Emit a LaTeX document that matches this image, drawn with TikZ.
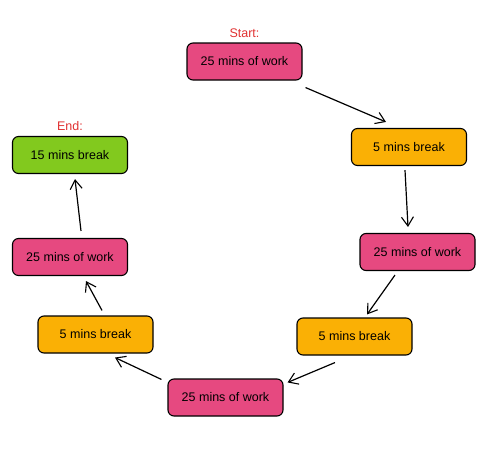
\documentclass[tikz,border=0pt]{standalone}
\usepackage{fontspec}
\setmainfont{Liberation Sans}
\usepackage{tikz}
\usetikzlibrary{positioning, arrows.meta}
\definecolor{work}{rgb}{0.902 0.286 0.502}
\definecolor{pause}{rgb}{0.980 0.690 0.020}
\definecolor{longpause}{rgb}{0.510 0.788 0.118}
\definecolor{note}{rgb}{0.878 0.192 0.192}

\begin{document}
\begin{tikzpicture}[x=1pt, y=-1pt,
    task/.style={draw=black, line width=1.1pt, rounded corners=6pt, minimum width=115pt, minimum height=37pt, font=\fontsize{12.5}{14}\selectfont, inner sep=0pt},
    worktask/.style={task, fill=work},
    pausetask/.style={task, fill=pause},
    longtask/.style={task, fill=longpause},
    tag/.style={text=note, font=\fontsize{12.5}{14}\selectfont, inner sep=1pt},
    flow/.style={line width=1.2pt, -{Straight Barb[length=9pt, width=12pt, line width=1.1pt]}}]
            \useasboundingbox (0,0) rectangle (499,453);

            \node[worktask] (w1) at (244.5,61.5) {25 mins of work};
            \node[pausetask] (b1) at (409,147) {5 mins break};
            \node[worktask] (w2) at (417.5,252) {25 mins of work};
            \node[pausetask] (b2) at (354.5,336.5) {5 mins break};
            \node[worktask] (w3) at (225.5,397.5) {25 mins of work};
            \node[pausetask] (b3) at (95.5,334.5) {5 mins break};
            \node[worktask] (w4) at (70,257) {25 mins of work};
            \node[longtask] (e1) at (70,155) {15 mins break};

            \node[tag, above=4pt of w1] (start) {Start:};
            \node[tag, above=4pt of e1] (finish) {End:};

            \draw[flow] ([shift={(3,7)}]w1.south east) -- ([shift={(-23,-6)}]b1.north);
            \draw[flow] ([shift={(-4,4)}]b1.south) -- ([shift={(-9.5,-6)}]w2.north);
            \draw[flow] ([shift={(-22.5,4)}]w2.south) -- ([shift={(12.5,-3)}]b2.north);
            \draw[flow] ([shift={(-19.5,7)}]b2.south) -- ([shift={(4,4)}]w3.north east);
            \draw[flow] ([shift={(-6,1)}]w3.north west) -- ([shift={(19.5,4)}]b3.south);
            \draw[flow] ([shift={(6.5,-5)}]b3.north) -- ([shift={(16,5)}]w4.south);
            \draw[flow] ([shift={(11,-7)}]w4.north) -- ([shift={(5,5)}]e1.south);
\end{tikzpicture}
\end{document}
